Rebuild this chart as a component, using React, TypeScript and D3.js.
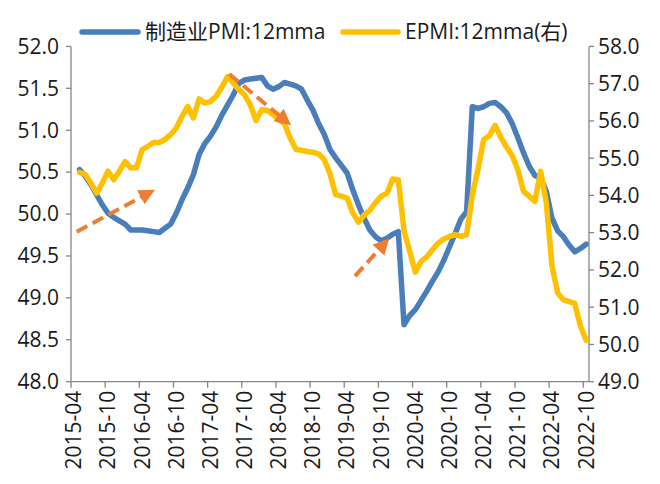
import React from "react";
import * as d3 from "d3";

// ---- data ----
const startMonth = new Date(2015, 3, 1); // 2015-04 (axis start)
const endMonth = new Date(2022, 10, 1); // exclusive (after 2022-10)
const dataStartIndex = 1; // series begin at 2015-05

const seriesNames = ["制造业PMI:12mma", "EPMI:12mma(右)"];

const pmi12 = [
  50.53, 50.45, 50.35, 50.23, 50.11, 50.01, 49.96, 49.92, 49.88, 49.81,
  49.81, 49.81, 49.8, 49.79, 49.78, 49.83, 49.88, 50.01, 50.17, 50.31,
  50.47, 50.71, 50.84, 50.93, 51.04, 51.18, 51.3, 51.42, 51.56, 51.6,
  51.61, 51.62, 51.63, 51.53, 51.49, 51.52, 51.57, 51.55, 51.53, 51.49,
  51.36, 51.24, 51.08, 50.95, 50.77, 50.67, 50.58, 50.49, 50.29, 50.11,
  49.95, 49.81, 49.73, 49.68, 49.71, 49.76, 49.79, 48.68, 48.79, 48.86,
  48.97, 49.08, 49.2, 49.31, 49.45, 49.61, 49.77, 49.94, 50.03, 51.28,
  51.26, 51.28, 51.32, 51.33, 51.28, 51.21, 51.08, 50.91, 50.73, 50.57,
  50.46, 50.43, 50.27, 49.95, 49.8, 49.73, 49.63, 49.55, 49.59, 49.64,
];

const epmi12 = [
  54.62, 54.56, 54.33, 54.06, 54.33, 54.65, 54.42, 54.65, 54.91, 54.74,
  54.74, 55.23, 55.32, 55.42, 55.42, 55.5, 55.63, 55.81, 56.12, 56.39,
  56.08, 56.59, 56.48, 56.52, 56.66, 56.91, 57.19, 57.02, 56.84, 56.7,
  56.43, 56.01, 56.3, 56.28, 56.17, 56.03, 55.92, 55.54, 55.24, 55.21,
  55.18, 55.16, 55.11, 54.96, 54.58, 54.02, 53.98, 53.93, 53.53, 53.28,
  53.48, 53.6, 53.81, 53.98, 54.06, 54.44, 54.42, 53.06, 52.5, 51.94,
  52.23, 52.35, 52.54, 52.72, 52.83, 52.9, 52.95, 52.9, 52.95, 54.02,
  54.7, 55.5, 55.6, 55.88, 55.56, 55.3, 55.07, 54.69, 54.11, 53.98,
  53.84, 54.65, 53.8, 52.1, 51.38, 51.2, 51.15, 51.1, 50.49, 50.11,
];

const leftTicks = [48.0, 48.5, 49.0, 49.5, 50.0, 50.5, 51.0, 51.5, 52.0];
const rightTicks = [49, 50, 51, 52, 53, 54, 55, 56, 57, 58];
const labelStep = 6;

// annotation arrows: [monthIndexFrom, leftValueFrom, monthIndexTo, leftValueTo]
const arrows = [
  [0.5, 49.79, 14.25, 50.29],
  [27.3, 51.67, 38.15, 51.06],
  [49.4, 49.26, 55.4, 49.71],
];

// ---- chart ----
const W = 660;
const H = 484;
const PL = 71;
const PR = 589;
const PT = 46.4;
const PB = 381.7;

const BLUE = "#4A7EBB";
const YELLOW = "#FFC000";
const ORANGE = "#ED7D31";
const AXIS = "#868686";
const TEXT = "#1a1a1a";
const FONT = "'Open Sans', 'Noto Sans CJK SC', sans-serif";
const FS = 21;

export default function App() {
  const months = d3.timeMonth.range(startMonth, endMonth);
  const fmt = d3.timeFormat("%Y-%m");
  const nSlots = months.length;

  const x = d3.scaleLinear().domain([0, nSlots]).range([PL, PR]);
  const yL = d3.scaleLinear().domain([48, 52]).range([PB, PT]);
  const yR = d3.scaleLinear().domain([49, 58]).range([PB, PT]);

  const cx = (i: number) => x(i + 0.5);

  const lineL = d3
    .line<number>()
    .x((_, i) => cx(i + dataStartIndex))
    .y((d) => yL(d));
  const lineR = d3
    .line<number>()
    .x((_, i) => cx(i + dataStartIndex))
    .y((d) => yR(d));

  const labelIdx = d3.range(0, nSlots, labelStep);

  const arrowEls = arrows.map(([m0, v0, m1, v1], k) => {
    const x0 = cx(m0);
    const y0 = yL(v0);
    const x1 = cx(m1);
    const y1 = yL(v1);
    const dx = x1 - x0;
    const dy = y1 - y0;
    const len = Math.hypot(dx, dy);
    const ux = dx / len;
    const uy = dy / len;
    const hl = 16;
    const hw = 8;
    const bx = x1 - ux * hl;
    const by = y1 - uy * hl;
    const pts = [
      [x1, y1],
      [bx - uy * hw, by + ux * hw],
      [bx + uy * hw, by - ux * hw],
    ]
      .map((p) => p.join(","))
      .join(" ");
    return (
      <g key={k}>
        <line
          x1={x0}
          y1={y0}
          x2={bx + ux * 2}
          y2={by + uy * 2}
          stroke={ORANGE}
          strokeWidth={4}
          strokeDasharray="12 6"
        />
        <polygon points={pts} fill={ORANGE} />
      </g>
    );
  });

  return (
    <svg
      width={W}
      height={H}
      style={{ position: "absolute", left: 0, top: 0, background: "#fff" }}
      fontFamily={FONT}
    >
      <rect width={W} height={H} fill="#fff" />
      {/* axes */}
      <line x1={PL} y1={PT} x2={PL} y2={PB} stroke={AXIS} strokeWidth={1.3} />
      <line x1={PR} y1={PT} x2={PR} y2={PB} stroke={AXIS} strokeWidth={1.3} />
      <line x1={PL} y1={PB} x2={PR} y2={PB} stroke={AXIS} strokeWidth={1.3} />
      {leftTicks.map((t) => (
        <g key={"l" + t}>
          <line x1={PL - 5} x2={PL} y1={yL(t)} y2={yL(t)} stroke={AXIS} strokeWidth={1.3} />
          <text
            x={PL - 12}
            y={yL(t)}
            dy="0.35em"
            textAnchor="end"
            fontSize={FS}
            fill={TEXT}
          >
            {t.toFixed(1)}
          </text>
        </g>
      ))}
      {rightTicks.map((t) => (
        <g key={"r" + t}>
          <line x1={PR} x2={PR + 5} y1={yR(t)} y2={yR(t)} stroke={AXIS} strokeWidth={1.3} />
          <text x={PR + 9} y={yR(t)} dy="0.35em" textAnchor="start" fontSize={FS} fill={TEXT}>
            {t.toFixed(1)}
          </text>
        </g>
      ))}
      {labelIdx.map((i) => (
        <g key={"x" + i}>
          <line x1={x(i)} x2={x(i)} y1={PB} y2={PB + 6} stroke={AXIS} strokeWidth={1.3} />
          <text
            transform={`translate(${cx(i)},${PB + 9}) rotate(-90)`}
            dy="0.35em"
            textAnchor="end"
            fontSize={FS}
            fill={TEXT}
          >
            {fmt(months[i])}
          </text>
        </g>
      ))}
      {/* series */}
      <path
        d={lineL(pmi12) || ""}
        fill="none"
        stroke={BLUE}
        strokeWidth={5.5}
        strokeLinejoin="round"
        strokeLinecap="round"
      />
      <path
        d={lineR(epmi12) || ""}
        fill="none"
        stroke={YELLOW}
        strokeWidth={5.5}
        strokeLinejoin="round"
        strokeLinecap="round"
      />
      {arrowEls}
      {/* legend */}
      <g>
        <line x1={82} x2={138} y1={32} y2={32} stroke={BLUE} strokeWidth={5.5} strokeLinecap="round" />
        <text x={145} y={32} dy="0.35em" fontSize={FS} fill={TEXT}>
          {seriesNames[0]}
        </text>
        <line x1={343} x2={398} y1={32} y2={32} stroke={YELLOW} strokeWidth={5.5} strokeLinecap="round" />
        <text x={405} y={32} dy="0.35em" fontSize={FS} fill={TEXT}>
          {seriesNames[1]}
        </text>
      </g>
    </svg>
  );
}
